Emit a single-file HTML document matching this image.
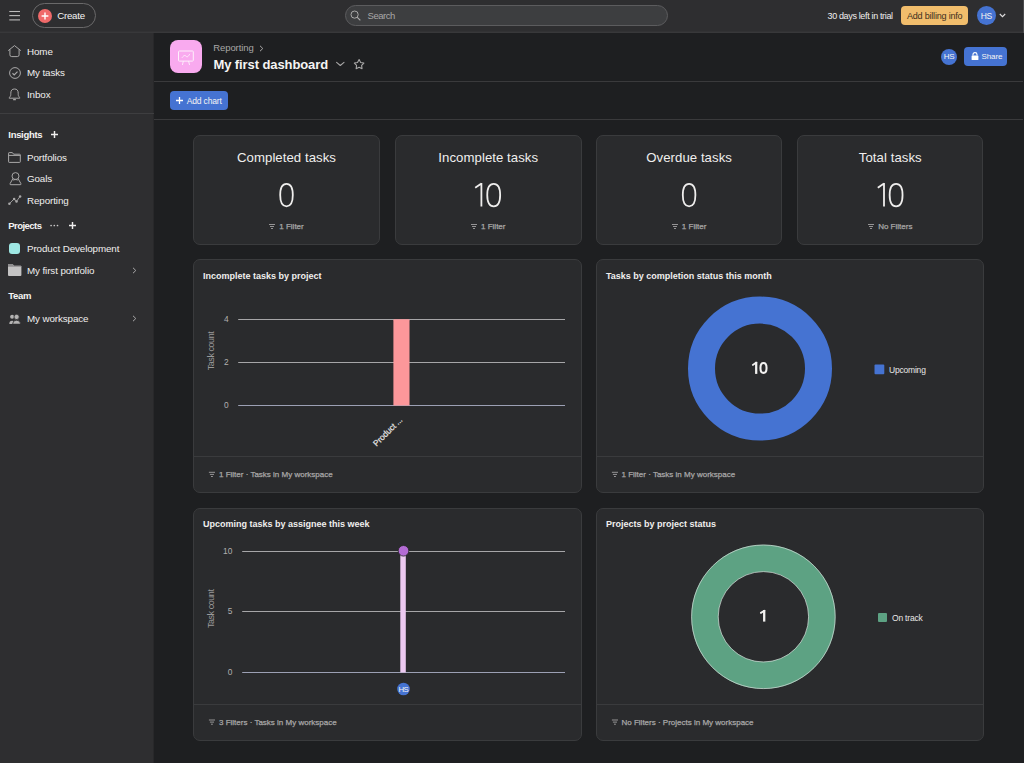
<!DOCTYPE html>
<html><head><meta charset="utf-8">
<style>
*{box-sizing:border-box;margin:0;padding:0}
html,body{width:1024px;height:763px;overflow:hidden;background:#1e1f21;font-family:"Liberation Sans",sans-serif;color:#f5f4f3}
.a{position:absolute}
.t{position:absolute;line-height:1;white-space:nowrap}
#top{position:absolute;left:0;top:0;width:1024px;height:33px;background:#2e2e30;border-bottom:1px solid #38383a;box-shadow:0 -1px 0 #323234 inset}
#side{position:absolute;left:0;top:33px;width:153px;height:730px;background:#2e2e30;border-right:1px solid #28282a;box-sizing:content-box}
#main{position:absolute;left:154px;top:33px;width:870px;height:730px;background:#1e1f21}
.side-t{font-size:9.8px;color:#f0efee;letter-spacing:-0.1px}
.sec{font-size:9.5px;font-weight:bold;color:#f5f4f3;letter-spacing:-0.3px}
.card{position:absolute;background:#2a2b2d;border:1px solid #3a3b3d;border-radius:7px}
.stat-title{position:absolute;left:0;right:0;text-align:center;font-size:13.2px;line-height:1;color:#f0efee;letter-spacing:0.05px}
.stat-num{position:absolute;left:0;right:0;text-align:center;font-size:34.5px;line-height:1;color:#f0efee;font-weight:normal;-webkit-text-stroke:0.9px #2a2b2d}
.stat-f{position:absolute;left:0;right:0;text-align:center;font-size:8px;line-height:1;color:#a8a7a7;-webkit-text-stroke:0.25px #a8a7a7}
.ctitle{position:absolute;left:9px;font-size:9px;font-weight:bold;line-height:1;color:#f0efee}
.cfoot{position:absolute;left:0;right:0;bottom:0;height:35.9px;border-top:1px solid #3a3b3d}
.ft{position:absolute;font-size:8px;line-height:1;color:#a2a0a2;white-space:nowrap}
</style></head><body>

<!-- TOP BAR -->
<div id="top">
  <svg class="a" style="left:9px;top:10px" width="12" height="11" viewBox="0 0 12 11"><g stroke="#bdbcbc" stroke-width="1.1"><line x1="0.3" y1="1.5" x2="11" y2="1.5"/><line x1="0.3" y1="5.6" x2="11" y2="5.6"/><line x1="0.3" y1="9.9" x2="11" y2="9.9"/></g></svg>
  <div class="a" style="left:32px;top:3px;width:64px;height:25px;border:1px solid #6a696a;border-radius:13px"></div>
  <svg class="a" style="left:38px;top:8.5px" width="14" height="14" viewBox="0 0 14 14"><circle cx="7" cy="7" r="7" fill="#f06a6a"/><path d="M7 3.6V10.4M3.6 7H10.4" stroke="#fff" stroke-width="1.4"/></svg>
  <div class="t" style="left:57.2px;top:10.9px;font-size:9.7px;color:#f5f4f3;letter-spacing:-0.25px">Create</div>

  <div class="a" style="left:345px;top:5px;width:323px;height:21px;background:#3d3e40;border:1px solid #5c5c5e;border-radius:11px"></div>
  <svg class="a" style="left:350px;top:10px" width="11" height="11" viewBox="0 0 11 11"><circle cx="4.6" cy="4.6" r="3.6" fill="none" stroke="#a9a8a8" stroke-width="1"/><line x1="7.3" y1="7.3" x2="10" y2="10" stroke="#a9a8a8" stroke-width="1.1" stroke-linecap="round"/></svg>
  <div class="t" style="left:367.5px;top:11px;font-size:9.5px;color:#a8a7a7;letter-spacing:-0.45px">Search</div>

  <div class="t" style="left:827.5px;top:11.6px;font-size:9px;color:#f0efee;letter-spacing:-0.35px">30 days left in trial</div>
  <div class="a" style="left:901px;top:6px;width:67px;height:19px;background:#f1bd6c;border-radius:4px"></div>
  <div class="t" style="left:907px;top:11.6px;font-size:9px;color:#3d2f1c;letter-spacing:-0.2px">Add billing info</div>
  <div class="a" style="left:976.8px;top:6px;width:19px;height:19px;border-radius:50%;background:#4573d2"></div>
  <div class="t" style="left:976.8px;top:11.7px;width:19px;text-align:center;font-size:8.5px;color:#f5f4f3;letter-spacing:-0.4px">HS</div>
  <svg class="a" style="left:999px;top:13px" width="7" height="5" viewBox="0 0 7 5"><path d="M0.8 1L3.5 3.7L6.2 1" fill="none" stroke="#e0dfdf" stroke-width="1.1"/></svg>
</div>
<div class="a" style="left:1023px;top:0;width:1px;height:763px;background:#4a4a4c"></div>

<!-- SIDEBAR -->
<div id="side"></div>
<!-- icons sidebar -->
<svg class="a" style="left:8.2px;top:44.8px" width="13" height="13" viewBox="0 0 13 13"><path d="M0.5 5.4L6.5 0.6L12.5 5.4" fill="none" stroke="#a9a8a8" stroke-width="1" stroke-linejoin="round" stroke-linecap="round"/><path d="M1.9 4.3V9.8Q1.9 11.6 3.7 11.6H9.3Q11.1 11.6 11.1 9.8V4.3" fill="none" stroke="#a9a8a8" stroke-width="1"/></svg>
<div class="t side-t" style="left:27px;top:46.6px">Home</div>
<svg class="a" style="left:9px;top:66.7px" width="12" height="12" viewBox="0 0 12 12"><circle cx="6" cy="6" r="5.4" fill="none" stroke="#a9a8a8" stroke-width="1"/><path d="M3.5 6.3L5.2 7.9L8.5 4.6" fill="none" stroke="#a9a8a8" stroke-width="1.2"/></svg>
<div class="t side-t" style="left:27px;top:67.6px">My tasks</div>
<svg class="a" style="left:8.3px;top:88.3px" width="13" height="13" viewBox="0 0 13 13"><path d="M1.2 10.2H11.8Q11.8 9.5 11 8.7Q10.2 7.9 10.2 6.4V5.2Q10.2 1 6.5 1Q2.8 1 2.8 5.2V6.4Q2.8 7.9 2 8.7Q1.2 9.5 1.2 10.2Z" fill="none" stroke="#a9a8a8" stroke-width="1" stroke-linejoin="round"/><path d="M5.6 11.7H7.4" stroke="#a9a8a8" stroke-width="1.2" stroke-linecap="round"/></svg>
<div class="t side-t" style="left:27px;top:89.7px">Inbox</div>
<div class="a" style="left:0;top:113px;width:154px;height:1px;background:#3e3e40"></div>

<div class="t sec" style="left:8.3px;top:129.7px">Insights</div>
<svg class="a" style="left:50.5px;top:130.5px" width="7" height="7" viewBox="0 0 7 7"><path d="M3.5 0V7M0 3.5H7" stroke="#f0efee" stroke-width="1.45"/></svg>
<svg class="a" style="left:8.3px;top:151.8px" width="13" height="11" viewBox="0 0 13 11"><path d="M0.6 1.2Q0.6 0.6 1.2 0.6H4.4L5.6 2.2H11.6Q12.3 2.2 12.3 2.9V9.8Q12.3 10.4 11.6 10.4H1.2Q0.6 10.4 0.6 9.8Z M0.6 3.4H12.3" fill="none" stroke="#a9a8a8" stroke-width="1"/></svg>
<div class="t side-t" style="left:27px;top:152.8px">Portfolios</div>
<svg class="a" style="left:8.5px;top:172px" width="13" height="14" viewBox="0 0 13 14"><path d="M3.9 6.6L1.1 11.6Q0.6 12.7 1.8 12.7H11.2Q12.4 12.7 11.9 11.6L9.1 6.6" fill="none" stroke="#a9a8a8" stroke-width="1" stroke-linejoin="round"/><circle cx="6.5" cy="4.1" r="3.5" fill="none" stroke="#a9a8a8" stroke-width="1"/><path d="M4.3 8.2Q6.5 6.4 8.7 8.2" fill="none" stroke="#a9a8a8" stroke-width="0.9"/></svg>
<div class="t side-t" style="left:27px;top:173.9px">Goals</div>
<svg class="a" style="left:8px;top:195px" width="14" height="10" viewBox="0 0 14 10"><path d="M1.4 8.7L6.1 3.9L8.5 6.4L12.1 1.4" fill="none" stroke="#a9a8a8" stroke-width="0.9"/><circle cx="1.4" cy="8.7" r="1.25" fill="#a9a8a8"/><circle cx="6.1" cy="3.9" r="1.25" fill="#a9a8a8"/><circle cx="8.5" cy="6.4" r="1.25" fill="#a9a8a8"/><circle cx="12.1" cy="1.4" r="1.25" fill="#a9a8a8"/></svg>
<div class="t side-t" style="left:27px;top:195.7px">Reporting</div>

<div class="t sec" style="left:8.3px;top:221.2px;letter-spacing:-0.55px">Projects</div>
<svg class="a" style="left:49.5px;top:224.3px" width="9" height="3" viewBox="0 0 9 3"><circle cx="1.1" cy="1.5" r="0.85" fill="#c9c8c8"/><circle cx="4.3" cy="1.5" r="0.85" fill="#c9c8c8"/><circle cx="7.5" cy="1.5" r="0.85" fill="#c9c8c8"/></svg>
<svg class="a" style="left:69.2px;top:222.2px" width="7" height="7" viewBox="0 0 7 7"><path d="M3.5 0V7M0 3.5H7" stroke="#f0efee" stroke-width="1.45"/></svg>
<div class="a" style="left:9.1px;top:243.3px;width:11px;height:11px;border-radius:3px;background:#9ee7e3"></div>
<div class="t side-t" style="left:27px;top:243.8px">Product Development</div>
<svg class="a" style="left:8.2px;top:264.3px" width="14" height="12" viewBox="0 0 14 12"><path d="M0 1Q0 0 1 0H4.6L6 1.8H12.6Q13.4 1.8 13.4 2.6V11Q13.4 12 12.4 12H1Q0 12 0 11Z" fill="#c4c3c3"/><path d="M0 1Q0 0 1 0H4.6L6 1.8H12.6Q13.4 1.8 13.4 2.6V2.8H0Z" fill="#8e8d8e"/></svg>
<div class="t side-t" style="left:27px;top:265.9px">My first portfolio</div>
<svg class="a" style="left:131.8px;top:266.5px" width="5" height="7" viewBox="0 0 5 7"><path d="M1 0.8L3.8 3.5L1 6.2" fill="none" stroke="#a9a8a8" stroke-width="1"/></svg>
<div class="t sec" style="left:8.3px;top:291.4px">Team</div>
<svg class="a" style="left:9px;top:314px" width="12" height="10" viewBox="0 0 12 10"><circle cx="3.1" cy="2.7" r="2" fill="#b4b3b3"/><path d="M0.3 10Q0.3 6.8 3.1 6.8Q4.6 6.8 5.4 7.6V10Z" fill="#b4b3b3"/><circle cx="7.6" cy="2.9" r="2.6" fill="#b4b3b3" stroke="#2e2e30" stroke-width="0.8"/><path d="M3.6 10.2Q3.6 6.2 7.6 6.2Q11.6 6.2 11.6 10.2Z" fill="#b4b3b3" stroke="#2e2e30" stroke-width="0.8"/></svg>
<div class="t side-t" style="left:27px;top:313.6px">My workspace</div>
<svg class="a" style="left:131.8px;top:315px" width="5" height="7" viewBox="0 0 5 7"><path d="M1 0.8L3.8 3.5L1 6.2" fill="none" stroke="#a9a8a8" stroke-width="1"/></svg>

<!-- MAIN -->
<div id="main"></div>
<div class="a" style="left:154px;top:81px;width:869px;height:1px;background:#3a3a3c"></div>
<div class="a" style="left:154px;top:119px;width:869px;height:1px;background:#3a3a3c"></div>

<div class="a" style="left:170px;top:40px;width:32px;height:33px;border-radius:8px;background:#f9aaef"></div>
<svg class="a" style="left:176px;top:49px" width="20" height="17" viewBox="176 49 20 17"><rect x="178.5" y="51" width="14.8" height="10.1" rx="0.8" fill="none" stroke="#fdf0fb" stroke-width="1"/><path d="M182.2 57.5C183.2 56.3 184.1 55.3 185 55.5C185.9 55.7 186.5 57 187.3 56.8C188.2 56.6 188.9 55.1 189.7 54.2" fill="none" stroke="#fdf0fb" stroke-width="0.9" stroke-linecap="round"/><path d="M183.3 61.4L182.5 64.6M188.6 61.4L189.5 64.6" stroke="#fdf0fb" stroke-width="0.9" stroke-linecap="round"/></svg>
<div class="t" style="left:213.3px;top:43.1px;font-size:9.5px;color:#a8a7a7;letter-spacing:-0.1px">Reporting</div>
<svg class="a" style="left:258.5px;top:44.5px" width="5" height="7" viewBox="0 0 5 7"><path d="M1 0.8L3.8 3.5L1 6.2" fill="none" stroke="#a8a7a7" stroke-width="1"/></svg>
<div class="t" style="left:213.5px;top:58px;font-size:13px;font-weight:bold;color:#f5f4f3;letter-spacing:-0.1px">My first dashboard</div>
<svg class="a" style="left:335px;top:60px" width="10" height="7" viewBox="335 60 10 7"><path d="M336.6 62.4L340.3 65.5L344 62.4" fill="none" stroke="#a8a7a7" stroke-width="1.1" stroke-linecap="round" stroke-linejoin="round"/></svg>
<svg class="a" style="left:352px;top:58px" width="14" height="13" viewBox="352 58 14 13"><path d="M359.10 59.60L360.66 62.46L363.86 63.05L361.62 65.42L362.04 68.65L359.10 67.25L356.16 68.65L356.58 65.42L354.34 63.05L357.54 62.46Z" fill="none" stroke="#a8a7a7" stroke-width="1.1" stroke-linejoin="round"/></svg>

<div class="a" style="left:941px;top:48.5px;width:16px;height:16px;border-radius:50%;background:#4573d2"></div>
<div class="t" style="left:941px;top:53px;width:16px;text-align:center;font-size:8px;color:#f5f4f3;letter-spacing:-0.3px">HS</div>
<div class="a" style="left:964px;top:47px;width:43px;height:19px;border-radius:4px;background:#4573d2"></div>
<svg class="a" style="left:970.5px;top:52px" width="8" height="8" viewBox="0 0 8 8"><path d="M2 3.6V2.4Q2 0.6 4 0.6Q6 0.6 6 2.4V3.6" fill="none" stroke="#fff" stroke-width="1.1"/><rect x="0.6" y="3.5" width="6.8" height="4.4" rx="0.5" fill="#fff"/></svg>
<div class="t" style="left:981.4px;top:53.1px;font-size:8px;color:#f5f4f3;letter-spacing:-0.05px">Share</div>

<div class="a" style="left:170px;top:91px;width:58px;height:19px;border-radius:4px;background:#4573d2"></div>
<svg class="a" style="left:176.1px;top:97.2px" width="7" height="7" viewBox="0 0 7 7"><path d="M3.5 0V7M0 3.5H7" stroke="#fff" stroke-width="1.3"/></svg>
<div class="t" style="left:186.7px;top:96.6px;font-size:8.5px;color:#f5f4f3;letter-spacing:-0.15px">Add chart</div>

<!-- STAT CARDS -->
<div class="card" style="left:193px;top:135px;width:187px;height:110px">
  <div class="stat-title" style="top:15px">Completed tasks</div>
  <div class="stat-f" style="top:86.8px"><svg width="6" height="5" viewBox="0 0 6 5" style="vertical-align:0px;margin-right:4px"><path d="M0 0.5H6M1 2.5H5M2 4.5H4" stroke="#a2a0a2" stroke-width="0.9"/></svg>1 Filter</div>
</div>
<div class="card" style="left:395px;top:135px;width:186.5px;height:110px">
  <div class="stat-title" style="top:15px">Incomplete tasks</div>
  <div class="stat-f" style="top:86.8px"><svg width="6" height="5" viewBox="0 0 6 5" style="vertical-align:0px;margin-right:4px"><path d="M0 0.5H6M1 2.5H5M2 4.5H4" stroke="#a2a0a2" stroke-width="0.9"/></svg>1 Filter</div>
</div>
<div class="card" style="left:596px;top:135px;width:186.2px;height:110px">
  <div class="stat-title" style="top:15px">Overdue tasks</div>
  <div class="stat-f" style="top:86.8px"><svg width="6" height="5" viewBox="0 0 6 5" style="vertical-align:0px;margin-right:4px"><path d="M0 0.5H6M1 2.5H5M2 4.5H4" stroke="#a2a0a2" stroke-width="0.9"/></svg>1 Filter</div>
</div>
<div class="card" style="left:797.2px;top:135px;width:186.2px;height:110px">
  <div class="stat-title" style="top:15px">Total tasks</div>
  <div class="stat-f" style="top:86.8px"><svg width="6" height="5" viewBox="0 0 6 5" style="vertical-align:0px;margin-right:4px"><path d="M0 0.5H6M1 2.5H5M2 4.5H4" stroke="#a2a0a2" stroke-width="0.9"/></svg>No Filters</div>
</div>

<!-- CHART CARDS -->
<div class="card" style="left:193px;top:259px;width:388.5px;height:233.5px">
  <div class="ctitle" style="top:11.5px">Incomplete tasks by project</div>
  <div class="cfoot"></div>
</div>
<div class="card" style="left:596px;top:259px;width:388px;height:233.5px">
  <div class="ctitle" style="top:11.5px">Tasks by completion status this month</div>
  <div class="cfoot"></div>
</div>
<div class="card" style="left:193px;top:507.5px;width:388.5px;height:233px">
  <div class="ctitle" style="top:11px">Upcoming tasks by assignee this week</div>
  <div class="cfoot"></div>
</div>
<div class="card" style="left:596px;top:507.5px;width:388px;height:233px">
  <div class="ctitle" style="top:11px">Projects by project status</div>
  <div class="cfoot"></div>
</div>

<svg class="a" style="left:0;top:0" width="1024" height="763" viewBox="0 0 1024 763" font-family="Liberation Sans, sans-serif">

  <!-- stat digits -->
  <g fill="none" stroke="#efeeed" stroke-width="1.8">
        <path d="M481.4 183.1V206.4M481.4 183.4L475.2 187.8"/>
    <path d="M286.50 183.80C290.78 183.80 292.80 188.30 292.80 195.05C292.80 201.80 290.78 206.30 286.50 206.30C282.22 206.30 280.20 201.80 280.20 195.05C280.20 188.30 282.22 183.80 286.50 183.80Z"/>
    <path d="M493.70 183.80C498.09 183.80 500.15 188.30 500.15 195.05C500.15 201.80 498.09 206.30 493.70 206.30C489.31 206.30 487.25 201.80 487.25 195.05C487.25 188.30 489.31 183.80 493.70 183.80Z"/>
    <path d="M689.10 183.80C693.38 183.80 695.40 188.30 695.40 195.05C695.40 201.80 693.38 206.30 689.10 206.30C684.82 206.30 682.80 201.80 682.80 195.05C682.80 188.30 684.82 183.80 689.10 183.80Z"/>
    <path d="M896.10 183.80C900.49 183.80 902.55 188.30 902.55 195.05C902.55 201.80 900.49 206.30 896.10 206.30C891.71 206.30 889.65 201.80 889.65 195.05C889.65 188.30 891.71 183.80 896.10 183.80Z"/>
            <path d="M884 183.1V206.4M884 183.4L877.8 187.8"/>
      </g>
  <!-- chart 1: bar -->
  <g stroke-width="1">
    <line x1="238.2" y1="319.5" x2="565" y2="319.5" stroke="#a6a6a8"/>
    <line x1="238.2" y1="362.5" x2="565" y2="362.5" stroke="#a6a6a8"/>
    <line x1="238.2" y1="405.5" x2="565" y2="405.5" stroke="#9ca0b4"/>
  </g>
  <g font-size="8.4" fill="#b0afaf" text-anchor="end">
    <text x="228.6" y="322">4</text>
    <text x="228.6" y="365.2">2</text>
    <text x="228.6" y="408">0</text>
  </g>
  <text transform="translate(214.3 351) rotate(-90)" font-size="9" fill="#9a999a" text-anchor="middle" letter-spacing="-0.45">Task count</text>
  <path d="M393.4 405.5V320.2Q393.4 319.2 394.4 319.2H408.5Q409.5 319.2 409.5 320.2V405.5Z" fill="#fc979a"/>
  <text transform="translate(402.8 420.6) rotate(-45)" font-size="8.4" fill="#e6e5e5" stroke="#e6e5e5" stroke-width="0.2" text-anchor="end" letter-spacing="-0.1">Product ...</text>

  <!-- chart 2: donut blue -->
  <circle cx="760" cy="368.6" r="58.5" fill="none" stroke="#4573d2" stroke-width="27"/>
  <g fill="none" stroke="#f3f2f1"><path d="M756.2 361.9V373.9" stroke-width="2.25"/><path d="M756.3 362.6L752.8 364.9" stroke-width="1.8" stroke-linecap="round"/><path d="M763.50 362.95C765.39 362.95 766.55 364.93 766.55 367.90C766.55 370.87 765.39 372.85 763.50 372.85C761.61 372.85 760.45 370.87 760.45 367.90C760.45 364.93 761.61 362.95 763.50 362.95Z" stroke-width="2.05"/></g>
  <rect x="874.5" y="364.5" width="9.8" height="9.8" rx="1" fill="#4573d2"/>
  <text x="889" y="373" font-size="8.5" fill="#e8e7e7" letter-spacing="-0.2">Upcoming</text>

  <!-- chart 3: lollipop -->
  <g stroke-width="1">
    <line x1="242.2" y1="551.5" x2="565" y2="551.5" stroke="#a6a6a8"/>
    <line x1="242.2" y1="611.5" x2="565" y2="611.5" stroke="#a6a6a8"/>
    <line x1="242.2" y1="672.5" x2="565" y2="672.5" stroke="#9ca0b4"/>
  </g>
  <g font-size="8.4" fill="#b0afaf" text-anchor="end">
    <text x="232.4" y="554">10</text>
    <text x="232.4" y="614.2">5</text>
    <text x="232.4" y="675.4">0</text>
  </g>
  <text transform="translate(214.3 608.8) rotate(-90)" font-size="9" fill="#9a999a" text-anchor="middle" letter-spacing="-0.45">Task count</text>
  <rect x="400.3" y="552" width="5.5" height="120.5" fill="#ecc9f0"/>
  <circle cx="403.5" cy="550.8" r="5.3" fill="#b36bd4" stroke="#242527" stroke-width="0.8"/>
  <circle cx="403.5" cy="689" r="6.3" fill="#4573d2"/>
  <text x="403.3" y="691.9" font-size="7.8" fill="#f5f4f3" text-anchor="middle" letter-spacing="-0.5">HS</text>

  <!-- chart 4: donut green -->
  <circle cx="763.4" cy="616.8" r="58.5" fill="none" stroke="#5da283" stroke-width="27"/>
  <circle cx="763.4" cy="616.8" r="71.8" fill="none" stroke="#d8dedb" stroke-width="0.7"/>
  <circle cx="763.4" cy="616.8" r="45.2" fill="none" stroke="#d8dedb" stroke-width="0.7"/>
  <g fill="none" stroke="#f3f2f1"><path d="M764.2 610V621.6" stroke-width="2.3"/><path d="M764.3 610.7L760.9 612.9" stroke-width="1.85" stroke-linecap="round"/></g>
  <rect x="878" y="613" width="9" height="9" rx="1" fill="#5da283"/>
  <text x="892" y="621.2" font-size="8.5" fill="#e8e7e7" letter-spacing="-0.2">On track</text>

  <!-- footers -->
  <g stroke="#a2a0a2" stroke-width="0.9">
    <path d="M208.9 472.3H215M209.9 474.4H214M211 476.5H212.9"/>
    <path d="M611.9 472.3H618M612.9 474.4H617M614 476.5H615.9"/>
    <path d="M208.9 720H215M209.9 722.1H214M211 724.2H212.9"/>
    <path d="M611.9 720H618M612.9 722.1H617M614 724.2H615.9"/>
  </g>
  <g font-size="8" fill="#a8a7a7" stroke="#a8a7a7" stroke-width="0.25">
    <text x="219" y="477.4">1 Filter · Tasks in My workspace</text>
    <text x="621.5" y="477.4">1 Filter · Tasks in My workspace</text>
    <text x="219" y="724.8">3 Filters · Tasks in My workspace</text>
    <text x="621.5" y="724.8">No Filters · Projects in My workspace</text>
  </g>
</svg>
</body></html>
